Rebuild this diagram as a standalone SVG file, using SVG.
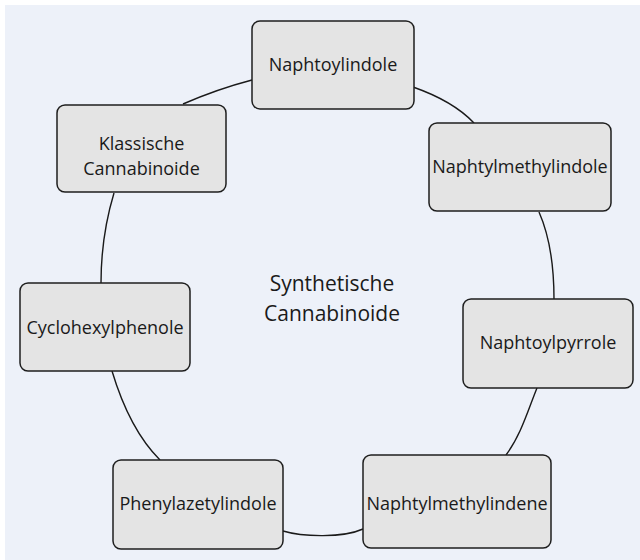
<svg xmlns="http://www.w3.org/2000/svg" width="640" height="560" viewBox="0 0 640 560">
<style>
.box{fill:#e4e4e4;stroke:#1e1e1e;stroke-width:1.5}
.lbl{font-family:"Open Sans","Noto Sans",sans-serif;font-size:18px;fill:#1a1a1a;text-anchor:middle}
.ctr{font-family:"Open Sans","Noto Sans",sans-serif;font-size:21px;fill:#1a1a1a;text-anchor:middle}
.con{fill:none;stroke:#1a1a1a;stroke-width:1.4}
</style>
<rect x="0" y="0" width="640" height="560" fill="#ffffff"/>
<rect x="5" y="5" width="635" height="555" fill="#edf1f9"/>
<g id="connectors">
<path class="con" d="M252,80 C229,86 206,94 183,104"/>
<path class="con" d="M114,193 C105,223 101,253 101,283"/>
<path class="con" d="M112,371 C121,401 135,435 160,460"/>
<path class="con" d="M283,531 C303,537 343,538 363,529"/>
<path class="con" d="M506,455 C521,435 528,410 537,388"/>
<path class="con" d="M554,299 C554,265 550,237 539,212"/>
<path class="con" d="M413,87 C433,94 456,104 474,123"/>
</g>
<g id="center">
<text class="ctr" x="332" y="291">Synthetische</text>
<text class="ctr" x="332" y="321">Cannabinoide</text>
</g>
<g id="n1">
<rect class="box" x="252" y="21" width="162" height="88" rx="8"/>
<text class="lbl" x="333" y="71">Naphtoylindole</text>
</g>
<g id="n2">
<rect class="box" x="57" y="105" width="169" height="87" rx="8"/>
<text class="lbl" x="141.5" y="150">Klassische</text>
<text class="lbl" x="141.5" y="175">Cannabinoide</text>
</g>
<g id="n3">
<rect class="box" x="429" y="123" width="182" height="88" rx="8"/>
<text class="lbl" x="520" y="173">Naphtylmethylindole</text>
</g>
<g id="n4">
<rect class="box" x="20" y="283" width="170" height="88" rx="8"/>
<text class="lbl" x="105" y="334">Cyclohexylphenole</text>
</g>
<g id="n5">
<rect class="box" x="463" y="299" width="170" height="89" rx="8"/>
<text class="lbl" x="548" y="349">Naphtoylpyrrole</text>
</g>
<g id="n6">
<rect class="box" x="113" y="460" width="170" height="89" rx="8"/>
<text class="lbl" x="198" y="510">Phenylazetylindole</text>
</g>
<g id="n7">
<rect class="box" x="363" y="455" width="188" height="93" rx="8"/>
<text class="lbl" x="457" y="510">Naphtylmethylindene</text>
</g>
</svg>
